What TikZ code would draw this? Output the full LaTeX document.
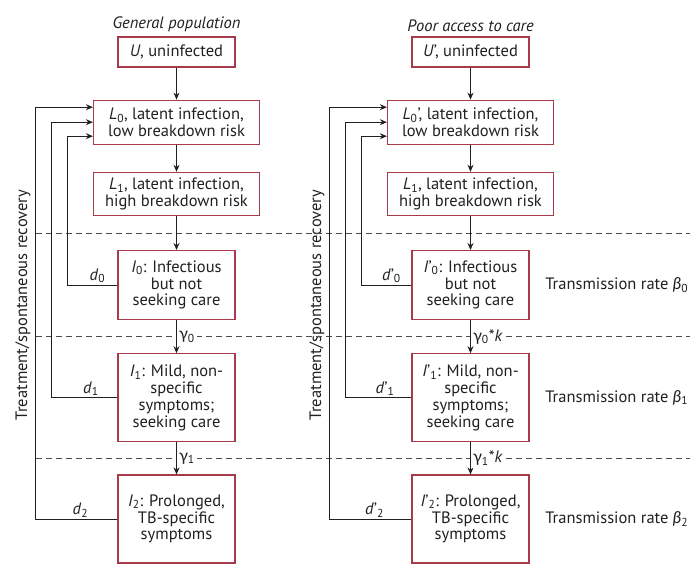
\documentclass[tikz,border=0pt]{standalone}
\usepackage{fontspec}
\setmainfont{PT Sans}
\newfontfamily\greekfont{Lato}
\usetikzlibrary{arrows.meta,positioning,calc}
\definecolor{boxred}{HTML}{A83A4A}
\definecolor{inkgray}{HTML}{231F20}
\newcommand{\gr}[1]{{\greekfont #1}}
\newcommand{\lowsub}[1]{\textsubscript{#1}}
\newcommand{\bodyfont}{\fontsize{16.5}{16.8}\selectfont}
\tikzset{
      arr/.style = {-{Stealth[length=7pt,width=6pt]}, line width=1pt, draw=inkgray},
     base/.style = {draw=boxred, line width=1.2pt, text=inkgray,
                    font=\bodyfont, align=center, inner sep=2pt},
    small/.style = {base, minimum width=117pt},
     wide/.style = {base, minimum width=166pt},
      sep/.style = {dash pattern=on 6pt off 4pt, draw=inkgray!80, line width=.8pt},
      lbl/.style = {text=inkgray, font=\bodyfont, inner sep=1.5pt},
      gam/.style = {lbl, fill=white, right, inner sep=2pt},
    title/.style = {lbl, font=\bodyfont\itshape},
        }
\begin{document}
\begin{tikzpicture}[x=1pt, y={(0pt,-1pt)}]
  \useasboundingbox (0,0) rectangle (696,564);

  % general population
  \node[small, minimum height=30pt] (U) at (176.5,52) {\textit{U}, uninfected};
  \node[title, above=3pt of U] (t1) {General population};
  \node[wide, minimum height=44pt, below=32pt of U] (L0) {\textit{L}\lowsub{0}, latent infection,\\ low breakdown risk};
  \node[wide, minimum height=43pt, below=27pt of L0] (L1) {\textit{L}\lowsub{1}, latent infection,\\ high breakdown risk};
  \node[small, minimum height=69pt, below=34pt of L1] (I0) {\textit{I}\lowsub{0}: Infectious\\ but not\\ seeking care};
  \node[small, minimum height=88pt, below=33pt of I0] (I1) {\textit{I}\lowsub{1}: Mild, non-\\ specific\\ symptoms;\\ seeking care};
  \node[small, minimum height=88pt, below=32pt of I1] (I2) {\textit{I}\lowsub{2}: Prolonged,\\ TB-specific\\ symptoms};
  \node[lbl, rotate=90] (rec) at (23,305) {Treatment/spontaneous recovery};

  % poor access to care
  \node[small, minimum height=30pt] (Ur) at (470.5,52) {\textit{U}’, uninfected};
  \node[title, above=3pt of Ur] (t2) {Poor access to care};
  \node[wide, minimum height=44pt, below=32pt of Ur] (L0r) {\textit{L}\lowsub{0}’, latent infection,\\ low breakdown risk};
  \node[wide, minimum height=43pt, below=27pt of L0r] (L1r) {\textit{L}\lowsub{1}, latent infection,\\ high breakdown risk};
  \node[small, minimum height=69pt, below=34pt of L1r] (I0r) {\textit{I}’\lowsub{0}: Infectious\\ but not\\ seeking care};
  \node[small, minimum height=88pt, below=33pt of I0r] (I1r) {\textit{I}’\lowsub{1}: Mild, non-\\ specific\\ symptoms;\\ seeking care};
  \node[small, minimum height=88pt, below=32pt of I1r] (I2r) {\textit{I}’\lowsub{2}: Prolonged,\\ TB-specific\\ symptoms};
  \node[lbl, rotate=90] (recr) at (317,305) {Treatment/spontaneous recovery};

  \node[lbl, right=14pt of I0r] (b0) {Transmission rate \textit{\gr{β}}\lowsub{0}};
  \node[lbl, right=14pt of I1r] (b1) {Transmission rate \textit{\gr{β}}\lowsub{1}};
  \node[lbl, right=14pt of I2r] (b2) {Transmission rate \textit{\gr{β}}\lowsub{2}};

  % stage borders
  \coordinate (lend) at (36,0);
  \coordinate (rend) at (690,0);
  \coordinate (s1) at ($(L1.south)!.5!(I0.north)$);
  \coordinate (s2) at ($(I0.south)!.5!(I1.north)$);
  \coordinate (s3) at ($(I1.south)!.5!(I2.north)$);
  \draw[sep] (s1 -| lend) -- (s1 -| rend);
  \draw[sep] (s2 -| lend) -- (s2 -| rend);
  \draw[sep] (s3 -| lend) -- (s3 -| rend);

  \draw[arr] (U) -- (L0);
  \draw[arr] (L0) -- (L1);
  \draw[arr] (L1) -- (I0);
  \draw[arr] (I0) -- node[gam] {\gr{γ}\lowsub{0}} (I1);
  \draw[arr] (I1) -- node[gam] {\gr{γ}\lowsub{1}} (I2);

  \draw[arr] (Ur) -- (L0r);
  \draw[arr] (L0r) -- (L1r);
  \draw[arr] (L1r) -- (I0r);
  \draw[arr] (I0r) -- node[gam] {\gr{γ}\lowsub{0}*\textit{k}} (I1r);
  \draw[arr] (I1r) -- node[gam] {\gr{γ}\lowsub{1}*\textit{k}} (I2r);

  % recovery back to latent
  \draw[arr] (I0.west) -- node[lbl, above, pos=.4] (d0) {\textit{d}\lowsub{0}} ++(-50pt,0pt) |- ($(L0.west)+(0pt,-14pt)$);
  \draw[arr] (I1.west) -- node[lbl, above, pos=.4] (d1) {\textit{d}\lowsub{1}} ++(-66pt,0pt) |- (L0.west);
  \draw[arr] (I2.west) -- node[lbl, above, pos=.45] (d2) {\textit{d}\lowsub{2}} ++(-82pt,0pt) |- ($(L0.west)+(0pt,15pt)$);

  \draw[arr] (I0r.west) -- node[lbl, above, pos=.4] (d0r) {\textit{d}’\lowsub{0}} ++(-50pt,0pt) |- ($(L0r.west)+(0pt,-14pt)$);
  \draw[arr] (I1r.west) -- node[lbl, above, pos=.4] (d1r) {\textit{d}’\lowsub{1}} ++(-66pt,0pt) |- (L0r.west);
  \draw[arr] (I2r.west) -- node[lbl, above, pos=.45] (d2r) {\textit{d}’\lowsub{2}} ++(-82pt,0pt) |- ($(L0r.west)+(0pt,15pt)$);
\end{tikzpicture}
\end{document}
